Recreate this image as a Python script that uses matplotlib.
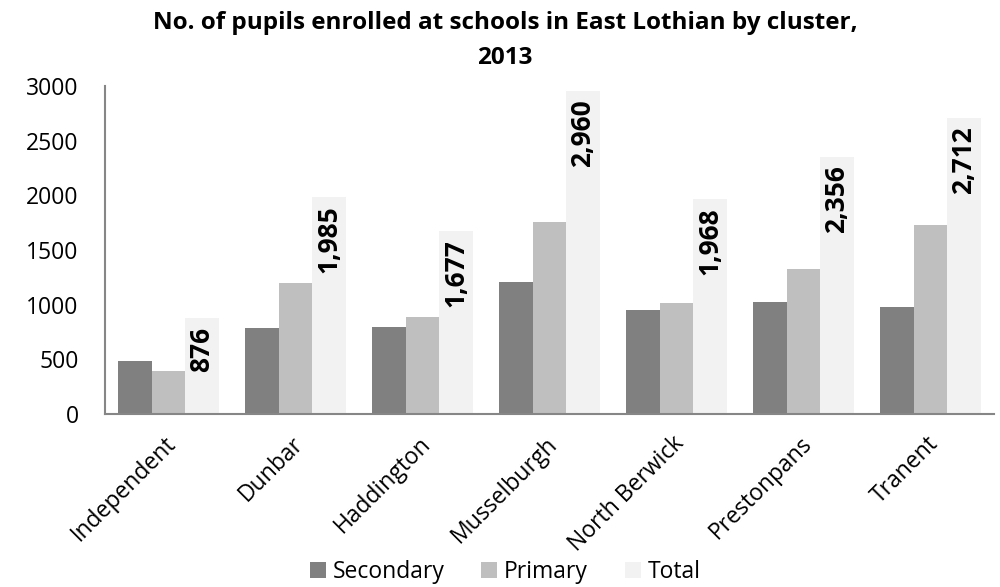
import matplotlib
matplotlib.use('Agg')
import matplotlib.pyplot as plt
import matplotlib.transforms as mtransforms
import numpy as np

plt.rcParams['font.family'] = ['Open Sans', 'DejaVu Sans']

clusters = ['Independent', 'Dunbar', 'Haddington', 'Musselburgh',
            'North Berwick', 'Prestonpans', 'Tranent']
secondary = [484, 789, 792, 1205, 953, 1027, 978]
primary = [392, 1196, 885, 1755, 1015, 1329, 1734]
total = [876, 1985, 1677, 2960, 1968, 2356, 2712]

fig = plt.figure(figsize=(10, 5.87), dpi=100)
ax = fig.add_axes([0.105, 0.295, 0.889, 0.558])

x = np.arange(len(clusters))
w = 0.264
ax.bar(x - w, secondary, w, color='#808080', label='Secondary')
ax.bar(x, primary, w, color='#bfbfbf', label='Primary')
bars = ax.bar(x + w, total, w, color='#f2f2f2', label='Total')

# data labels inside the end of the total bars
for b, v in zip(bars, total):
    ax.annotate(f'{v:,}', (b.get_x() + b.get_width() / 2, v),
                xytext=(0, -6), textcoords='offset points',
                rotation=90, ha='center', va='top', fontsize=19,
                fontweight='bold', color='black')

ax.set_xlim(-0.5, len(clusters) - 0.5)
ax.set_ylim(0, 3000)
ax.set_yticks(range(0, 3001, 500))
ax.set_xticks(x)
ax.set_xticklabels(clusters, rotation=45, ha='right', rotation_mode='anchor')
ax.tick_params(axis='both', length=0, labelsize=16.5)
ax.tick_params(axis='x', pad=13)
ax.tick_params(axis='y', pad=19)
shift = mtransforms.ScaledTranslation(-4 / 100, 0, fig.dpi_scale_trans)
for lbl in ax.get_xticklabels():
    lbl.set_transform(lbl.get_transform() + shift)

for s in ['top', 'right']:
    ax.spines[s].set_visible(False)
for s in ['left', 'bottom']:
    ax.spines[s].set_color('#868686')
    ax.spines[s].set_linewidth(1.5)

fig.text(0.505, 0.982, 'No. of pupils enrolled at schools in East Lothian by cluster,\n2013',
         ha='center', va='top', fontsize=17.5, fontweight='bold', linespacing=1.65)

fig.legend(loc='lower center', bbox_to_anchor=(0.505, -0.03), ncol=3, frameon=False,
           fontsize=16.5, handlelength=0.7, handleheight=0.7, handletextpad=0.3,
           columnspacing=1.6)

fig.savefig('out.png', dpi=100)
